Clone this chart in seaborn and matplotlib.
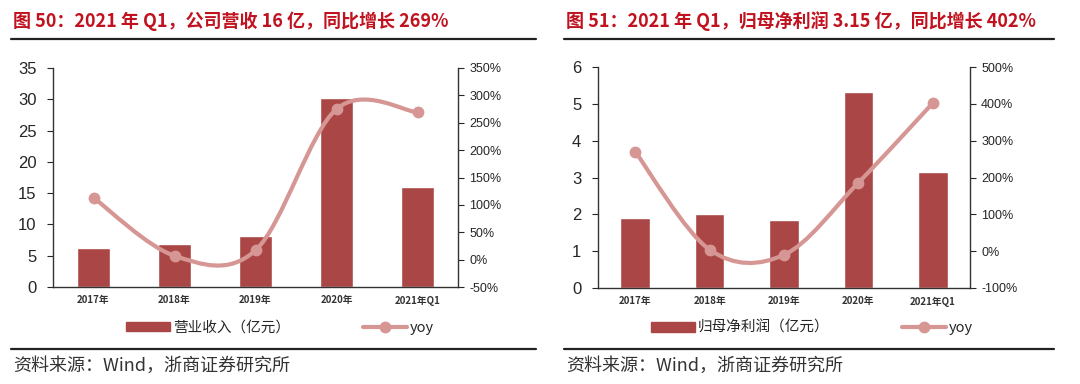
import numpy as np
import matplotlib
matplotlib.use("Agg")
import matplotlib.pyplot as plt
import seaborn as sns
from matplotlib.path import Path
from matplotlib.patches import PathPatch, Patch
from matplotlib.lines import Line2D

# ========== 数据 ==========
years = ["2017年", "2018年", "2019年", "2020年", "2021年Q1"]

revenue = [6.3, 6.8, 8.1, 30.2, 16.0]          # 营业收入（亿元）
revenue_yoy = [113, 7, 17, 275, 269]            # %

profit = [1.89, 2.01, 1.85, 5.33, 3.15]         # 归母净利润（亿元）
profit_yoy = [270, 4, -10, 186, 402]            # %

titles = ["图 50：2021 年 Q1，公司营收 16 亿，同比增长 269%",
          "图 51：2021 年 Q1，归母净利润 3.15 亿，同比增长 402%"]
bar_labels = ["营业收入（亿元）", "归母净利润（亿元）"]
source = "资料来源：Wind，浙商证券研究所"

# ========== 样式 ==========
sns.set_style("white")
plt.rcParams['font.family'] = ['Noto Sans CJK SC', 'DejaVu Sans']
plt.rcParams['axes.unicode_minus'] = False

BAR_C = '#AA4645'
LINE_C = '#D69694'
TITLE_C = '#C0121F'
NUM_FONT = ['Liberation Sans', 'DejaVu Sans']


def smooth_path(xs, ys):
    """Excel 风格的平滑曲线（Catmull-Rom -> 三次贝塞尔）"""
    pts = np.column_stack([xs, ys]).astype(float)
    n = len(pts)
    verts = [pts[0]]
    codes = [Path.MOVETO]
    for i in range(n - 1):
        p0 = pts[i - 1] if i > 0 else pts[i]
        p1, p2 = pts[i], pts[i + 1]
        p3 = pts[i + 2] if i + 2 < n else pts[i + 1]
        c1 = p1 + (p2 - p0) / 6
        c2 = p2 - (p3 - p1) / 6
        verts += [c1, c2, p2]
        codes += [Path.CURVE4] * 3
    return Path(verts, codes)


def draw_panel(rect, bars, yoy, ylim, yticks, y2lim, y2ticks, bar_w):
    ax = fig.add_axes(rect)
    sns.barplot(x=years, y=bars, ax=ax, color=BAR_C, saturation=1, width=bar_w)
    ax.set_xlim(-0.5, len(years) - 0.5)
    ax.set_ylim(*ylim)
    ax.set_yticks(yticks)
    ax.set_yticklabels([f"{v:g}" for v in yticks], family=NUM_FONT, fontsize=12)
    ax.set_xlabel("")
    ax.set_ylabel("")
    ax.set_xticks(np.arange(-0.5, len(years), 1), minor=True)
    ax.tick_params(axis='x', which='major', length=0, labelsize=7, pad=6)
    ax.tick_params(axis='x', which='minor', length=4, direction='out', width=0.8)
    ax.tick_params(axis='y', length=4, direction='out', width=0.8, left=True, pad=8)
    for lab in ax.get_xticklabels():
        lab.set_fontweight('bold')
        lab.set_color('#333333')
    for s in ['left', 'bottom']:
        ax.spines[s].set_color('#333333')
        ax.spines[s].set_linewidth(1.0)
    ax.spines['top'].set_visible(False)
    ax.spines['right'].set_visible(False)

    ax2 = ax.twinx()
    ax2.set_ylim(*y2lim)
    ax2.set_yticks(y2ticks)
    ax2.set_yticklabels([f"{v:g}%" for v in y2ticks], family=NUM_FONT, fontsize=9)
    ax2.tick_params(axis='y', length=4, direction='out', width=0.8, right=True, pad=4)
    for s in ['top', 'left', 'bottom']:
        ax2.spines[s].set_visible(False)
    ax2.spines['right'].set_color('#333333')
    ax2.spines['right'].set_linewidth(1.0)
    xpos = np.arange(len(years))
    ax2.add_patch(PathPatch(smooth_path(xpos, yoy), fill=False,
                            edgecolor=LINE_C, linewidth=3, capstyle='round'))
    ax2.plot(xpos, yoy, linestyle='none', marker='o', markersize=7.5,
             color=LINE_C)
    return ax, ax2


fig = plt.figure(figsize=(10.8, 3.84), dpi=100)
W, H = 1080, 384


def fx(px):
    return px / W


def fy(py):
    return 1 - py / H


# 左图
draw_panel([fx(53), fy(287), fx(458 - 53), (287 - 68) / H],
           revenue, revenue_yoy, (0, 35), range(0, 36, 5),
           (-50, 350), range(-50, 351, 50), 0.41)
# 右图
draw_panel([fx(598), fy(288), fx(970 - 598), (288 - 67) / H],
           profit, profit_yoy, (0, 6), range(0, 7, 1),
           (-100, 500), range(-100, 501, 100), 0.40)

# 标题、分隔线、图例、资料来源
for i, (x0, x1) in enumerate([(11, 536), (564, 1054)]):
    fig.text(fx(x0 + 2), fy(21), titles[i], color=TITLE_C, fontsize=13,
             fontweight='bold', va='center', ha='left')
    fig.add_artist(Line2D([fx(x0), fx(x1)], [fy(38.5), fy(38.5)],
                          color='#222222', linewidth=1.6))
    fig.add_artist(Line2D([fx(x0), fx(x1)], [fy(348.5), fy(348.5)],
                          color='#222222', linewidth=1.6))
    fig.text(fx(x0 + 2), fy(366), source, color='#333333', fontsize=13,
             va='center', ha='left')

legend_pos = [(fx(280), fy(328)), (fx(812), fy(328))]
for i, pos in enumerate(legend_pos):
    handles = [Patch(color=BAR_C),
               Line2D([], [], color=LINE_C, linewidth=3, marker='o', markersize=7.5)]
    fig.legend(handles, [bar_labels[i], 'yoy'], loc='center', bbox_to_anchor=pos,
               ncol=2, frameon=False, fontsize=10.5, handlelength=3.0,
               handleheight=0.6, handletextpad=0.2, columnspacing=5.0)

fig.savefig('out.png', dpi=100)
